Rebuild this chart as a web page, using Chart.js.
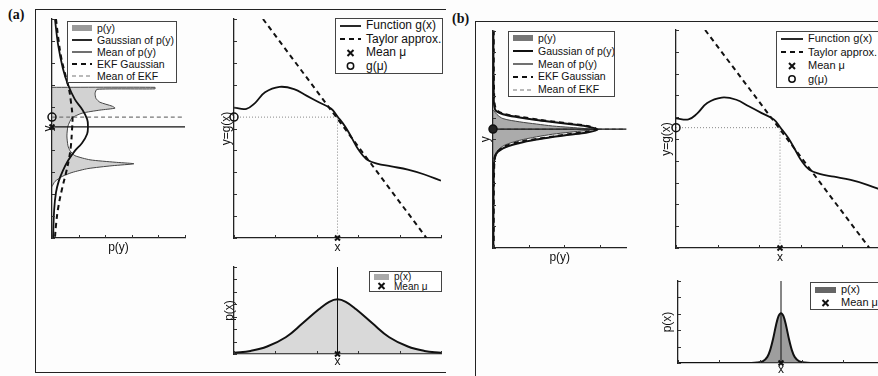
<!DOCTYPE html>
<html>
<head>
<meta charset="utf-8">
<title>EKF linearization</title>
<script src="https://cdn.jsdelivr.net/npm/chart.js@4.4.0/dist/chart.umd.min.js"></script>
<style>
  html, body { margin: 0; padding: 0; }
  body { width: 878px; height: 376px; overflow: hidden; position: relative; background: #fdfdfd;
         font-family: 'Liberation Sans', Arial, sans-serif; color: #111; }
  canvas { position: absolute; }
  .frame { position: absolute; border: 0 solid #222; }
  .tag { position: absolute; font: bold 14px 'Liberation Serif', 'Times New Roman', serif; }
  .legend { position: absolute; background: #fff; border: 1px solid #444; overflow: hidden;
            white-space: nowrap; box-sizing: border-box; }
  .legend div { position: relative; }
  .legend svg { position: absolute; left: 4px; top: 50%; margin-top: -4px; }
</style>
</head>
<body>
<div class="frame" style="left:35px;top:9px;width:410px;height:362px;border-left-width:1.5px;border-top-width:1.5px;border-bottom-width:1.5px"></div>
<div class="frame" style="left:475px;top:21px;width:420px;height:400px;border-left-width:1.5px;border-top-width:1.5px"></div>
<div class="tag" style="left:8px;top:7px">(a)</div>
<div class="tag" style="left:452px;top:11px">(b)</div>

<canvas id="aPy"></canvas>
<canvas id="aFn"></canvas>
<canvas id="aPx"></canvas>
<canvas id="bPy"></canvas>
<canvas id="bFn"></canvas>
<canvas id="bPx"></canvas>

<div class="legend" id="legAPy" style="left:67px;top:21px;width:110px;height:62px;font-size:10.5px" data-row="12" data-tx="29"></div>
<div class="legend" id="legAFn" style="left:335px;top:18px;width:108px;height:56px;font-size:12px" data-row="13.5" data-tx="30"></div>
<div class="legend" id="legAPx" style="left:369px;top:271px;width:73px;height:21px;font-size:10px" data-row="9.5" data-tx="24"></div>
<div class="legend" id="legBPy" style="left:508px;top:31px;width:107px;height:66px;font-size:10.5px" data-row="12.8" data-tx="29"></div>
<div class="legend" id="legBFn" style="left:776px;top:31px;width:130px;height:57px;font-size:11px" data-row="13.5" data-tx="31"></div>
<div class="legend" id="legBPx" style="left:810px;top:282px;width:80px;height:28px;font-size:11px" data-row="13" data-tx="30"></div>

<script>
// ---- data ----
// nonlinear function g(x) and its Taylor approximation at mu
const gX = [0, 0.06, 0.1, 0.15, 0.22, 0.29, 0.35, 0.41, 0.47, 0.5, 0.54, 0.57, 0.6, 0.64, 0.69, 0.76, 0.84, 0.92, 1.0];
const gY = [0.595, 0.59, 0.615, 0.665, 0.69, 0.68, 0.65, 0.62, 0.59, 0.555, 0.505, 0.455, 0.405, 0.36, 0.34, 0.327, 0.312, 0.29, 0.262];
const taylorX = [0.14, 0.93];
const taylorY = [1.0, 0.0];
const mu = 0.5;
const gMu = 0.552;

// (a) wide input: p(y), its Gaussian and the EKF Gaussian
const pyA_p = [0, 3.87, 3.87, 1.69, 1.62, 1.65, 1.80, 2.26, 2.37, 1.80, 1.13, 0.75, 0.60, 0.56, 0.60, 0.68, 0.86, 1.43, 2.37, 3.08, 2.26, 1.35, 0.75, 0.38, 0.11, 0];
const pyA_y = [0.688, 0.688, 0.681, 0.679, 0.661, 0.638, 0.620, 0.602, 0.593, 0.584, 0.570, 0.548, 0.511, 0.466, 0.421, 0.398, 0.376, 0.357, 0.346, 0.339, 0.330, 0.317, 0.299, 0.281, 0.258, 0.235];
const gaussA_p = [0.11, 0.23, 0.41, 0.60, 0.86, 1.13, 1.32, 1.35, 1.32, 1.13, 0.86, 0.60, 0.41, 0.26, 0.15, 0.08, 0.04];
const gaussA_y = [1.0, 0.882, 0.774, 0.701, 0.633, 0.588, 0.543, 0.511, 0.475, 0.434, 0.398, 0.353, 0.308, 0.262, 0.208, 0.127, 0.0];
const ekfA_p = [0.15, 0.23, 0.34, 0.49, 0.64, 0.71, 0.77, 0.75, 0.71, 0.64, 0.53, 0.38, 0.23, 0.15, 0.11];
const ekfA_y = [1.0, 0.919, 0.828, 0.751, 0.679, 0.624, 0.552, 0.489, 0.421, 0.362, 0.299, 0.226, 0.136, 0.059, 0.0];
const meanPyA = 0.507;
const pxA_x = [0, 0.08, 0.16, 0.25, 0.33, 0.41, 0.46, 0.5, 0.54, 0.59, 0.67, 0.75, 0.84, 0.92, 1.0];
const pxA_p = [0.1, 0.25, 0.6, 1.35, 2.45, 3.6, 4.2, 4.4, 4.2, 3.6, 2.45, 1.35, 0.6, 0.25, 0.1];

// (b) narrow input
const pyB_p = [0, 0.11, 0.28, 0.75, 1.22, 1.67, 2.14, 2.61, 2.89, 2.61, 2.14, 1.67, 1.22, 0.75, 0.33, 0.11, 0];
const pyB_y = [0.636, 0.614, 0.595, 0.580, 0.570, 0.561, 0.555, 0.549, 0.545, 0.540, 0.532, 0.523, 0.511, 0.495, 0.473, 0.445, 0.409];
const gaussB_p = [0.01, 0.02, 0.06, 0.28, 0.75, 1.22, 1.67, 2.14, 2.61, 2.94, 2.61, 2.14, 1.67, 1.22, 0.75, 0.28, 0.06, 0.02, 0.01];
const gaussB_y = [1.0, 0.718, 0.636, 0.615, 0.600, 0.588, 0.579, 0.570, 0.560, 0.545, 0.530, 0.521, 0.510, 0.499, 0.483, 0.458, 0.423, 0.332, 0.0];
const ekfB_p = [0.02, 0.03, 0.08, 0.3, 0.8, 1.3, 1.75, 2.2, 2.65, 2.9, 2.65, 2.2, 1.75, 1.3, 0.8, 0.3, 0.08, 0.03, 0.02];
const ekfB_y = [1.0, 0.72, 0.64, 0.617, 0.602, 0.59, 0.58, 0.571, 0.561, 0.548, 0.535, 0.525, 0.514, 0.503, 0.49, 0.465, 0.43, 0.34, 0.0];
const meanPyB = 0.547;
const pxB_x = [0, 0.3, 0.356, 0.385, 0.413, 0.433, 0.447, 0.462, 0.476, 0.488, 0.5, 0.512, 0.524, 0.538, 0.553, 0.567, 0.587, 0.615, 0.644, 0.7, 1.0];
const pxB_p = [0, 0, 0, 0.03, 0.12, 0.36, 0.77, 1.49, 2.32, 2.86, 3.04, 2.86, 2.32, 1.49, 0.77, 0.36, 0.12, 0.03, 0, 0, 0];

// ---- helpers ----
Chart.defaults.font.family = "'Liberation Sans', Arial, sans-serif";
Chart.defaults.color = '#111';

const pts = (xs, ys) => xs.map((v, i) => ({x: v, y: ys[i]}));

// MATLAB style ticks pointing into the plot
const innerTicks = {
    id: 'innerTicks',
    afterDraw(chart) {
        const {ctx, chartArea: a, scales: {x, y}} = chart;
        ctx.save();
        ctx.strokeStyle = '#333';
        ctx.lineWidth = 1;
        ctx.beginPath();
        x.ticks.forEach(t => {
            const px = Math.round(x.getPixelForValue(t.value)) + 0.5;
            ctx.moveTo(px, a.bottom);
            ctx.lineTo(px, a.bottom - 3);
        });
        y.ticks.forEach(t => {
            const py = Math.round(y.getPixelForValue(t.value)) + 0.5;
            ctx.moveTo(a.left, py);
            ctx.lineTo(a.left + 3, py);
        });
        ctx.stroke();
        ctx.restore();
    }
};

function axis(pos, range, title, size) {
    return {
        type: 'linear', position: pos, min: range[0], max: range[1],
        afterFit: s => { if (pos === 'left') s.width = size; else s.height = size; },
        ticks: { display: false, stepSize: range[2], includeBounds: false },
        grid: { display: false },
        border: { display: true, color: '#222', width: 1.3 },
        title: { display: true, text: title, padding: 0, color: '#111', font: { size: 12 } }
    };
}

// box = plot area in page pixels + distance of axis titles from the axes
function makeChart(id, box, datasets, indexAxis) {
    const yW = Math.round(box.yt + 7.2), xH = Math.round(box.xt + 7.2);
    const c = document.getElementById(id);
    c.width = box.w + yW + 4;
    c.height = box.h + xH + 4;
    c.style.left = (box.l - yW) + 'px';
    c.style.top = (box.t - 4) + 'px';
    return new Chart(c, {
        type: 'line',
        data: { datasets },
        options: {
            responsive: false,
            animation: false,
            indexAxis: indexAxis || 'x',
            layout: { padding: { top: 4, right: 4, left: 0, bottom: 0 } },
            plugins: { legend: { display: false }, tooltip: { enabled: false } },
            scales: {
                x: axis('bottom', box.xr, box.xTitle, xH),
                y: axis('left', box.yr, box.yTitle, yW)
            }
        },
        plugins: [innerTicks]
    });
}

function curve(label, data, o) {
    return Object.assign({ label, data, borderColor: '#111', borderWidth: 1.8, pointRadius: 0,
        tension: 0.4, fill: false, order: 1 }, o);
}
function marker(label, x, y, style, o) {
    return Object.assign({ label, data: [{x, y}], showLine: false, pointStyle: style,
        pointRadius: style === 'crossRot' ? 3.5 : 4, borderColor: '#111', borderWidth: style === 'crossRot' ? 2 : 1.5,
        backgroundColor: 'rgba(255,255,255,0)', clip: false, order: 0 }, o);
}

function symbol(d, w) {
    const c = d.borderColor;
    if (d.showLine === false) {
        const m = w / 2;
        if (d.pointStyle === 'crossRot')
            return `<svg width="${w}" height="8"><path d="M${m - 3} 1L${m + 3} 7M${m + 3} 1L${m - 3} 7" stroke="${c}" stroke-width="2"/></svg>`;
        return `<svg width="${w}" height="8"><circle cx="${m}" cy="4" r="3.2" fill="${d.backgroundColor}" stroke="${c}" stroke-width="1.5"/></svg>`;
    }
    if (d.fill) return `<svg width="${w}" height="8"><rect x="0" y="1" width="${w}" height="6" fill="${d.legendColor}"/></svg>`;
    const dash = d.borderDash ? `stroke-dasharray="${d.borderDash.join(' ')}"` : '';
    return `<svg width="${w}" height="8"><line x1="0" y1="4" x2="${w}" y2="4" stroke="${c}" stroke-width="${d.borderWidth}" ${dash}/></svg>`;
}

function legend(chart, id) {
    const el = document.getElementById(id);
    const rowH = parseFloat(el.dataset.row), tx = parseFloat(el.dataset.tx);
    el.innerHTML = chart.data.datasets.filter(d => d.label).map(d =>
        `<div style="height:${rowH}px;line-height:${rowH}px;padding-left:${tx}px">${symbol(d, tx - 9)}${d.label}</div>`
    ).join('');
}

// ---- (a) ----
const aPy = makeChart('aPy', { l: 52, t: 17, w: 135, h: 221, yt: 4, xt: 10, xr: [0, 5, 1], yr: [0, 1, 0.1], xTitle: 'p(y)', yTitle: 'y' }, [
    curve('p(y)', pts(pyA_p, pyA_y), { borderColor: '#444', borderWidth: 1, tension: 0.2, fill: 'origin',
        backgroundColor: 'rgba(130,130,130,0.35)', legendColor: '#9a9a9a', order: 5 }),
    curve('Gaussian of p(y)', pts(gaussA_p, gaussA_y)),
    curve('Mean of p(y)', [{x: 0, y: meanPyA}, {x: 5, y: meanPyA}], { borderWidth: 1.2, borderColor: '#111' }),
    curve('EKF Gaussian', pts(ekfA_p, ekfA_y), { borderDash: [5, 4], borderWidth: 2 }),
    curve('Mean of EKF', [{x: 0, y: gMu}, {x: 5, y: gMu}], { borderDash: [4, 3], borderWidth: 1.2, borderColor: '#777' }),
    marker('', 0, gMu, 'circle'),
    marker('', 0, meanPyA, 'crossRot')
], 'y');
legend(aPy, 'legAPy');

const aFn = makeChart('aFn', { l: 234, t: 17, w: 209, h: 221, yt: 8, xt: 10, xr: [0, 1, 0.2], yr: [0, 1, 0.1], xTitle: 'x', yTitle: 'y=g(x)' }, [
    curve('Function g(x)', pts(gX, gY)),
    curve('Taylor approx.', pts(taylorX, taylorY), { borderDash: [5, 4], borderWidth: 2, tension: 0 }),
    marker('Mean \u03bc', mu, 0, 'crossRot'),
    marker('g(\u03bc)', 0, gMu, 'circle'),
    curve('', [{x: 0, y: gMu}, {x: mu, y: gMu}, {x: mu, y: 0}], { borderDash: [1, 2], borderWidth: 1, borderColor: '#888', tension: 0 })
]);
legend(aFn, 'legAFn');

const aPx = makeChart('aPx', { l: 234, t: 265, w: 209, h: 89, yt: 5, xt: 8, xr: [0, 1, 0.2], yr: [0, 7, 1], xTitle: 'x', yTitle: 'p(x)' }, [
    curve('p(x)', pts(pxA_x, pxA_p), { borderWidth: 2, fill: 'origin', backgroundColor: 'rgba(150,150,150,0.35)',
        legendColor: '#aaa', order: 5 }),
    marker('Mean \u03bc', mu, 0, 'crossRot'),
    curve('', [{x: mu, y: 0}, {x: mu, y: 7}], { borderWidth: 1, tension: 0 })
]);
legend(aPx, 'legAPx');

// ---- (b) ----
const bPy = makeChart('bPy', { l: 493, t: 29, w: 135, h: 219, yt: 8, xt: 10, xr: [0, 3.75, 1], yr: [0, 1, 0.1], xTitle: 'p(y)', yTitle: 'y' }, [
    curve('p(y)', pts(pyB_p, pyB_y), { borderColor: '#444', borderWidth: 1, tension: 0.3, fill: 'origin',
        backgroundColor: 'rgba(90,90,90,0.5)', legendColor: '#777', order: 5 }),
    curve('Gaussian of p(y)', pts(gaussB_p, gaussB_y), { borderWidth: 2, tension: 0.3 }),
    curve('Mean of p(y)', [{x: 0, y: meanPyB}, {x: 3.75, y: meanPyB}], { borderWidth: 1.2, borderColor: '#111' }),
    curve('EKF Gaussian', pts(ekfB_p, ekfB_y), { borderDash: [5, 4], borderWidth: 2, tension: 0.3 }),
    curve('Mean of EKF', [{x: 0, y: meanPyB}, {x: 3.75, y: meanPyB}], { borderDash: [4, 3], borderWidth: 1.2, borderColor: '#777' }),
    marker('', 0, meanPyB, 'circle', { backgroundColor: '#222' })
], 'y');
legend(bPy, 'legBPy');

const bFn = makeChart('bFn', { l: 676, t: 28, w: 210, h: 220, yt: 10, xt: 10, xr: [0, 1, 0.2], yr: [0, 1, 0.1], xTitle: 'x', yTitle: 'y=g(x)' }, [
    curve('Function g(x)', pts(gX, gY)),
    curve('Taylor approx.', pts(taylorX, taylorY), { borderDash: [5, 4], borderWidth: 2, tension: 0 }),
    marker('Mean \u03bc', mu, 0, 'crossRot'),
    marker('g(\u03bc)', 0, gMu, 'circle'),
    curve('', [{x: 0, y: gMu}, {x: mu, y: gMu}, {x: mu, y: 0}], { borderDash: [1, 2], borderWidth: 1, borderColor: '#888', tension: 0 })
]);
legend(bFn, 'legBFn');

const bPx = makeChart('bPx', { l: 678, t: 279, w: 208, h: 84, yt: 11, xt: 7, xr: [0, 1, 0.2], yr: [0, 5, 1], xTitle: 'x', yTitle: 'p(x)' }, [
    curve('p(x)', pts(pxB_x, pxB_p), { borderWidth: 2, tension: 0.3, fill: 'origin', backgroundColor: 'rgba(80,80,80,0.55)',
        legendColor: '#666', order: 5 }),
    marker('Mean \u03bc', mu, 0, 'crossRot'),
    curve('', [{x: mu, y: 0}, {x: mu, y: 5}], { borderWidth: 1, tension: 0 })
]);
legend(bPx, 'legBPx');
</script>
</body>
</html>
